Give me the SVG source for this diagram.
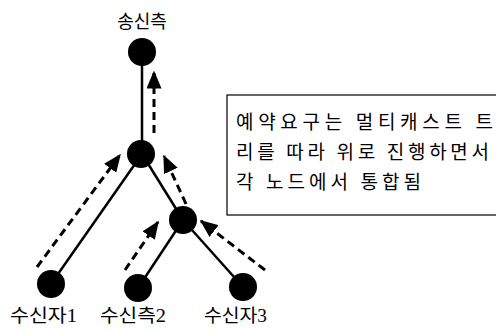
<svg xmlns="http://www.w3.org/2000/svg" width="496" height="330" viewBox="0 0 496 330">
<defs>
<style>
.node{fill:#000}
.edge{stroke:#000;stroke-width:2.5;fill:none}
.flow{stroke:#000;stroke-width:3;fill:none;stroke-dasharray:8 5}
.lbl{font-family:"Liberation Serif","Noto Sans CJK KR",serif;font-size:18px;fill:#000}
.note{font-family:"Noto Sans CJK KR",sans-serif;font-size:19px;fill:#000}
</style>
<marker id="ah" markerWidth="6" markerHeight="5" refX="5.5" refY="2.5" orient="auto" markerUnits="strokeWidth">
<path d="M0,0 L6,2.5 L0,5 Z" fill="#000"/>
</marker>
</defs>
<rect width="496" height="330" fill="#fff"/>
<g id="connectors">
<line class="edge" x1="142" y1="52" x2="142" y2="154"/>
<line class="edge" x1="142" y1="154" x2="51" y2="284"/>
<line class="edge" x1="142" y1="154" x2="183" y2="220"/>
<line class="edge" x1="183" y1="220" x2="138" y2="288"/>
<line class="edge" x1="183" y1="220" x2="243" y2="287"/>
<line class="flow" x1="154" y1="133" x2="154" y2="72" marker-end="url(#ah)"/>
<line class="flow" x1="37" y1="267" x2="120" y2="155" marker-end="url(#ah)"/>
<line class="flow" x1="186" y1="204" x2="164" y2="156" marker-end="url(#ah)"/>
<line class="flow" x1="125" y1="270" x2="158" y2="222" marker-end="url(#ah)"/>
<line class="flow" x1="265" y1="270" x2="201" y2="221" marker-end="url(#ah)"/>
</g>
<g id="sender">
<circle class="node" cx="142" cy="52" r="14"/>
<text class="lbl" x="142" y="28" text-anchor="middle">송신측</text>
</g>
<g id="router1">
<circle class="node" cx="141" cy="154" r="14"/>
</g>
<g id="router2">
<circle class="node" cx="183" cy="220" r="14"/>
</g>
<g id="receiver1">
<circle class="node" cx="51" cy="284" r="14"/>
<text class="lbl" x="10" y="322" textLength="67" lengthAdjust="spacingAndGlyphs">수신자1</text>
</g>
<g id="receiver2">
<circle class="node" cx="138" cy="288" r="14"/>
<text class="lbl" x="100" y="322" textLength="66" lengthAdjust="spacingAndGlyphs">수신측2</text>
</g>
<g id="receiver3">
<circle class="node" cx="243" cy="287" r="14"/>
<text class="lbl" x="204" y="322" textLength="63" lengthAdjust="spacingAndGlyphs">수신자3</text>
</g>
<g id="note">
<rect x="227" y="95" width="280" height="120" fill="#fff" stroke="#000" stroke-width="1.2"/>
<text class="note" x="236" y="129" textLength="257" lengthAdjust="spacing">예약요구는 멀티캐스트 트</text>
<text class="note" x="236" y="159" textLength="253" lengthAdjust="spacing">리를 따라 위로 진행하면서</text>
<text class="note" x="236" y="189" textLength="185" lengthAdjust="spacing">각 노드에서 통합됨</text>
</g>
</svg>
